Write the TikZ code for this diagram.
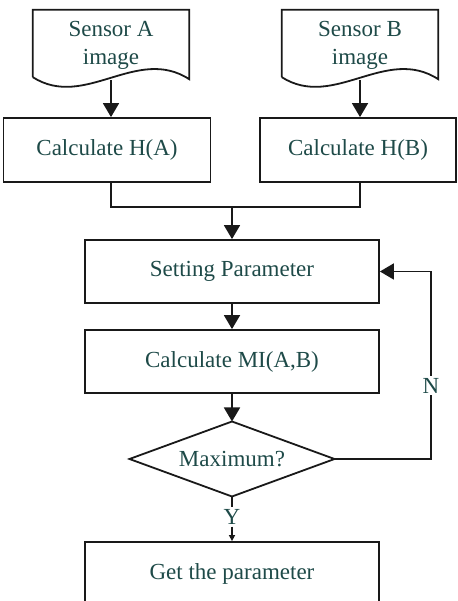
\documentclass[tikz,border=0pt]{standalone}
\usepackage{fontspec}
\setmainfont{Liberation Serif}
\usetikzlibrary{arrows.meta,calc}
\definecolor{txt}{RGB}{30,74,72}
\definecolor{ink}{RGB}{25,25,25}
\begin{document}
\begin{tikzpicture}[x=1pt,y=1pt,
  font=\fontsize{23}{30}\selectfont,
  line/.style={draw=ink,line width=1.8pt},
  arr/.style={line,-{Triangle[length=14pt,width=16pt]}},
  smallarr/.style={line,-{Triangle[length=6pt,width=6pt]}},
  box/.style={line,rectangle,text=txt,inner sep=0pt,minimum height=64pt},
  docnode/.style={rectangle,text=txt,align=center,inner sep=0pt,minimum width=156pt,minimum height=70pt},
  lbl/.style={fill=white,text=txt,inner sep=2pt}]
\useasboundingbox (0,0) rectangle (457,601);

% input documents
\node[docnode] (docA) at (111,556) {Sensor A\\[-2pt]image};
\node[docnode] (docB) at (360,556) {Sensor B\\[-2pt]image};
\foreach \d in {docA,docB}{
  \draw[line,line join=miter]
    ($(\d.south west)+(0,3)$) -- (\d.north west) -- (\d.north east)
    -- ($(\d.south east)+(0,1)$)
    .. controls ($(\d.south west)+(104,35)$) and ($(\d.south west)+(52,-30)$)
    .. ($(\d.south west)+(0,3)$);
}

% entropy boxes
\node[box,minimum width=207pt] (hA) at (107,451) {Calculate H(A)};
\node[box,minimum width=196pt] (hB) at (358,451) {Calculate H(B)};

% main column
\coordinate (join) at (232,394);
\node[box,minimum width=294pt,minimum height=63pt] (sp) at (232,329.5) {Setting Parameter};
\node[box,minimum width=294pt,minimum height=63pt] (mi) at (232,239.5) {Calculate MI(A,B)};

% decision diamond
\node[text=txt] (dec) at (232,142) {Maximum?};
\coordinate (decN) at ($(dec)+(0,37.5)$);
\coordinate (decS) at ($(dec)+(0,-37.5)$);
\coordinate (decE) at ($(dec)+(102.5,0)$);
\coordinate (decW) at ($(dec)+(-102.5,0)$);
\draw[line,line join=miter] (decN) -- (decE) -- (decS) -- (decW) -- cycle;

\node[lbl] (ylab) at (232,84) {Y};
\node[box,minimum width=294pt] (get) at (232,27) {Get the parameter};
\coordinate (loop) at (431,142);

% connectors
\draw[arr] (docA.south) -- (docA.south |- hA.north);
\draw[arr] (docB.south) -- (docB.south |- hB.north);
\draw[line] (docA.south |- hA.south) |- (join) -| (docB.south |- hB.south);
\draw[arr] (join) -- (sp.north);
\draw[arr] (sp.south) -- (mi.north);
\draw[arr] (mi.south) -- (decN);
\draw[line] (decS) -- (ylab.north);
\draw[smallarr] (ylab.south) -- (get.north);
\draw[arr] (decE) -- (loop) -- node[lbl,pos=0.39]{N} (loop |- sp.east) -- (sp.east);
\end{tikzpicture}
\end{document}
